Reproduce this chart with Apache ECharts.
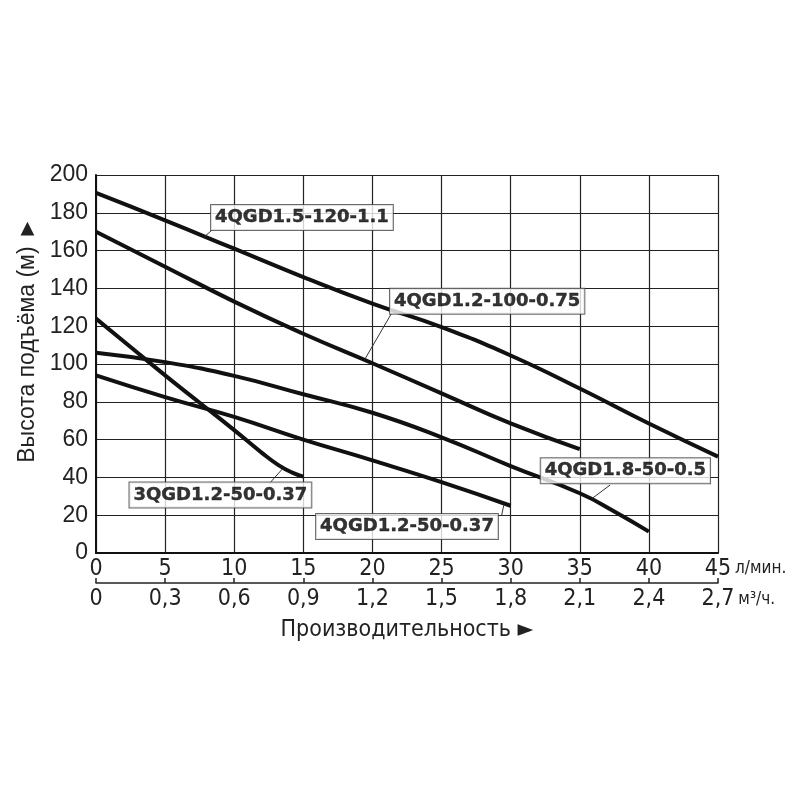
<!DOCTYPE html>
<html lang="ru">
<head>
    <meta charset="UTF-8"/>
    <title>QGD</title>
    <script src="https://cdn.jsdelivr.net/npm/echarts@6/dist/echarts.min.js"></script>
</head>
<body style="margin:0;background:#fff">
<div id="main" style="width:800px;height:800px;"></div>
<script type="text/javascript">
    // кривые насосов: подача (л/мин) -> напор (м)
    var flowA = [0, 5, 10, 15, 20, 25, 30, 35, 40, 45];
    var headA = [190.5, 176, 161, 146, 132, 119.5, 104.5, 87, 68.5, 51];

    var flowB = [0, 5, 10, 15, 20, 25, 30, 35];
    var headB = [170, 151.5, 133, 116, 100.4, 84.5, 68.6, 55];

    var flowC = [0, 5, 10, 15, 20, 25, 30, 35, 37.5, 40];
    var headC = [106, 101, 93.7, 84, 74.2, 61.2, 46, 31.6, 22, 11.3];

    var flowD = [0, 5, 10, 15, 20, 25, 30];
    var headD = [94, 82.5, 72, 60, 49, 37.5, 25];

    var flowE = [0, 2.5, 5, 7.5, 10, 12, 13.2, 14.2, 15];
    var headE = [124, 109, 94, 79.5, 65, 53, 46.5, 42.5, 40.4];

    var names = ['4QGD1.5-120-1.1', '4QGD1.2-100-0.75', '4QGD1.8-50-0.5', '4QGD1.2-50-0.37', '3QGD1.2-50-0.37'];
    // центры подписей и выноски (в единицах осей)
    var labelPos = [[14.9, 177.5], [28.3, 133.2], [38.3, 43.5], [22.5, 14.0], [9.0, 30.7]];
    var leaderFrom = [[8.4, 170.9], [21.4, 127], [37.2, 36], [29.35, 20], [12.56, 36.9]];
    var leaderTo = [[7.85, 167.4], [19.45, 102.5], [35.9, 28.9], [29.5, 25.3], [13.5, 44.6]];

    var xTicks = [0, 5, 10, 15, 20, 25, 30, 35, 40, 45];
    var m3Ticks = [0, 0.3, 0.6, 0.9, 1.2, 1.5, 1.8, 2.1, 2.4, 2.7];

    var narrow = "'Liberation Sans Narrow', 'DejaVu Sans Condensed', Roboto, sans-serif";

    function pairs(xs, ys) {
        return xs.map(function (x, i) { return [x, ys[i]]; });
    }

    var curves = [[flowA, headA], [flowB, headB], [flowC, headC], [flowD, headD], [flowE, headE]];

    var myChart = echarts.init(document.getElementById('main'));

    var series = curves.map(function (c, i) {
        return {
            name: names[i],
            type: 'line',
            xAxisIndex: 0,
            data: pairs(c[0], c[1]),
            smooth: 0.5,
            symbol: 'none',
            lineStyle: {color: '#111', width: 4},
            z: 3
        };
    });

    series.push({
        type: 'lines',
        coordinateSystem: 'cartesian2d',
        xAxisIndex: 0,
        data: leaderFrom.map(function (p, i) { return {coords: [p, leaderTo[i]]}; }),
        lineStyle: {color: '#333', width: 1, opacity: 1},
        z: 4
    });

    series.push({
        type: 'scatter',
        xAxisIndex: 0,
        symbolSize: 0,
        data: labelPos.map(function (p, i) { return {value: p, name: names[i]}; }),
        label: {
            show: true,
            position: 'inside',
            formatter: '{b}',
            fontFamily: 'DejaVu Sans',
            fontWeight: 'bold',
            fontSize: 18,
            color: '#000',
            textBorderColor: '#000',
            textBorderWidth: 0.4,
            backgroundColor: '#fff',
            borderColor: '#444',
            borderWidth: 1,
            padding: [4, 4, 3, 4]
        },
        z: 5
    });

    var option = {
        animation: false,
        grid: {left: 96, right: 82, top: 175, bottom: 247},
        xAxis: [
            {
                type: 'value',
                min: 0, max: 45, interval: 5,
                name: 'л/мин.',
                nameLocation: 'end',
                nameGap: 12,
                nameTextStyle: {
                    fontFamily: narrow, fontSize: 17, color: '#222',
                    verticalAlign: 'top', padding: [7, 0, 0, 0]
                },
                axisLine: {lineStyle: {color: '#111', width: 2}},
                axisTick: {show: false},
                axisLabel: {
                    margin: 5,
                    fontFamily: narrow, fontSize: 23, color: '#222',
                    customValues: xTicks
                },
                splitLine: {lineStyle: {color: '#222', width: 1.2}}
            },
            {
                type: 'value',
                position: 'bottom',
                offset: 30,
                min: 0, max: 2.7, interval: 0.3,
                name: 'м³/ч.',
                nameLocation: 'end',
                nameGap: 14,
                nameTextStyle: {
                    fontFamily: narrow, fontSize: 17, color: '#222',
                    verticalAlign: 'top', padding: [8, 0, 0, 0]
                },
                axisLine: {lineStyle: {color: '#222', width: 1.5}},
                axisTick: {show: true, inside: true, length: 5, lineStyle: {color: '#222', width: 1.5}},
                axisLabel: {
                    margin: 5,
                    fontFamily: narrow, fontSize: 23, color: '#222',
                    customValues: m3Ticks,
                    formatter: function (v) {
                        return v === 0 ? '0' : v.toFixed(1).replace('.', ',');
                    }
                },
                splitLine: {show: false}
            },
            {
                type: 'value',
                position: 'bottom',
                offset: 30,
                min: 0, max: 2.7,
                name: 'Производительность ►',
                nameLocation: 'middle',
                nameGap: 36,
                nameTextStyle: {fontFamily: narrow, fontSize: 23, color: '#222'},
                axisLine: {show: false},
                axisTick: {show: false},
                axisLabel: {show: false},
                splitLine: {show: false}
            }
        ],
        yAxis: {
            type: 'value',
            min: 0, max: 200, interval: 20,
            name: 'Высота подъёма (м) ►',
            nameLocation: 'middle',
            nameGap: 50,
            nameTextStyle: {fontFamily: 'Liberation Sans', fontSize: 23, color: '#222', padding: [0, 0, 0, 48]},
            axisLine: {show: true, lineStyle: {color: '#111', width: 2}},
            axisTick: {show: false},
            axisLabel: {margin: 8, fontFamily: 'Liberation Sans', fontSize: 23, color: '#222'},
            splitLine: {lineStyle: {color: '#222', width: 1.2}}
        },
        series: series
    };

    myChart.setOption(option);
</script>
</body>
</html>
